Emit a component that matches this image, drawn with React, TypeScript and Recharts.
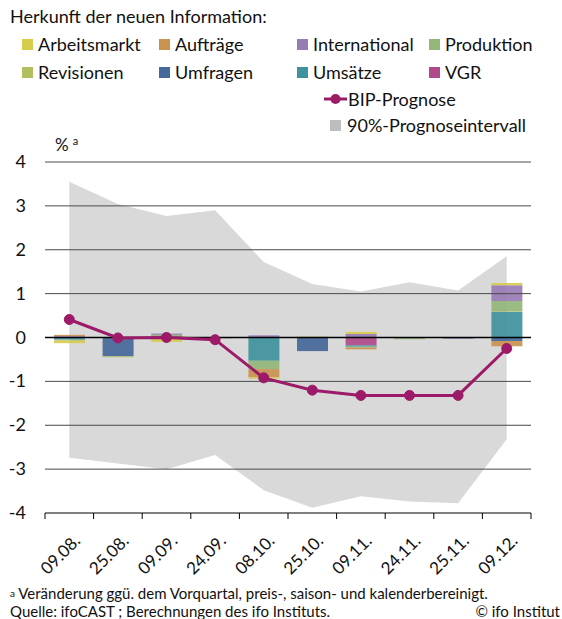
import {
  ComposedChart,
  Bar,
  Line,
  Area,
  XAxis,
  YAxis,
  ReferenceLine,
} from "recharts";

const dates = ["09.08.", "25.08.", "09.09.", "24.09.", "08.10.", "25.10.", "09.11.", "24.11.", "25.11.", "09.12."];

const arbeitsmarkt = [-0.06, 0, -0.06, 0, -0.03, 0, 0.05, 0, 0, 0.05];
const auftraege = [0.03, 0, 0, 0, -0.19, 0, -0.04, 0, 0, -0.12];
const international = [0.03, 0, 0.03, 0, 0.05, 0, 0.08, 0, -0.03, 0.36];
const produktion = [-0.02, 0.01, 0.06, -0.02, -0.19, 0, -0.02, -0.04, 0, 0.24];
const revisionen = [0, -0.02, -0.04, 0, 0, 0.02, 0, 0, 0, 0.01];
const umfragen = [0, -0.43, 0, 0, 0, -0.31, 0, 0, 0, -0.08];
const umsaetze = [-0.05, 0, 0, 0, -0.53, 0, -0.03, 0, 0, 0.58];
const vgr = [0, 0, 0, 0, 0, 0, -0.18, 0, 0, 0];

const bip = [0.41, -0.01, 0, -0.05, -0.92, -1.2, -1.32, -1.32, -1.32, -0.25];
const upper = [3.55, 3.04, 2.77, 2.9, 1.72, 1.22, 1.05, 1.26, 1.07, 1.85];
const lower = [-2.74, -2.87, -3.0, -2.68, -3.48, -3.88, -3.62, -3.74, -3.78, -2.32];

const yTicks = [-4, -3, -2, -1, 0, 1, 2, 3, 4];
const gridLines = [-3, -2, -1, 1, 2, 3, 4];

// stacking order as in the original (closest to zero first)
const series = [
  { key: "VGR", values: vgr, color: "#b04a8a" },
  { key: "Umsätze", values: umsaetze, color: "#3f939d" },
  { key: "Umfragen", values: umfragen, color: "#46689a" },
  { key: "Revisionen", values: revisionen, color: "#b3bf5e" },
  { key: "Produktion", values: produktion, color: "#93b67b" },
  { key: "International", values: international, color: "#987cb4" },
  { key: "Aufträge", values: auftraege, color: "#c9924f" },
  { key: "Arbeitsmarkt", values: arbeitsmarkt, color: "#d7cc4c" },
];

const legendOrder = [
  "Arbeitsmarkt", "Aufträge", "International", "Produktion",
  "Revisionen", "Umfragen", "Umsätze", "VGR",
];

const data = dates.map((d, i) => {
  const row: Record<string, any> = {
    date: d,
    bip: bip[i],
    band: [lower[i], upper[i]],
  };
  series.forEach((s) => {
    row[s.key] = s.values[i];
  });
  return row;
});

const FONT = "Lato, 'Open Sans', sans-serif";
const LINE_COLOR = "#9c1a68";
const BAND = 48.6;

const XTick = (props: any) => {
  const { x, y, payload, index } = props;
  const lx = x + 12;
  const ly = y + 29;
  return (
    <g>
      <line x1={x - BAND / 2} y1={y} x2={x - BAND / 2} y2={y + 6} stroke="#000" />
      {index === dates.length - 1 && (
        <line x1={x + BAND / 2} y1={y} x2={x + BAND / 2} y2={y + 6} stroke="#000" />
      )}
      <text
        x={lx}
        y={ly}
        textAnchor="end"
        transform={`rotate(-45, ${lx}, ${ly})`}
        fontSize={17}
        fill="#111"
        fontFamily={FONT}
      >
        {payload.value}
      </text>
    </g>
  );
};

const YTick = (props: any) => {
  const { y, payload } = props;
  return (
    <text x={26} y={y} dy={6} textAnchor="end" fontSize={18} fill="#111" fontFamily={FONT}>
      {payload.value}
    </text>
  );
};

export default function App() {
  const colorOf = (k: string) => series.find((s) => s.key === k)!.color;
  const cols = [22, 159, 297, 429];
  return (
    <div
      style={{
        position: "absolute",
        left: 0,
        top: 0,
        width: 562,
        height: 619,
        background: "#fff",
        fontFamily: FONT,
        color: "#111",
      }}
    >
      <ComposedChart
        width={562}
        height={619}
        data={data}
        stackOffset="sign"
        margin={{ top: 162, right: 31, bottom: 76, left: 0 }}
        barSize={31}
      >
        <XAxis
          dataKey="date"
          height={30}
          tick={<XTick />}
          tickLine={false}
          tickSize={0}
          tickMargin={0}
          axisLine={{ stroke: "#000", strokeWidth: 1 }}
          interval={0}
        />
        <YAxis
          domain={[-4, 4]}
          ticks={yTicks}
          width={45}
          tick={<YTick />}
          tickLine={false}
          axisLine={false}
          interval={0}
        />
        <Area
          dataKey="band"
          type="linear"
          stroke="none"
          fill="#d9d9d9"
          fillOpacity={1}
          isAnimationActive={false}
        />
        {gridLines.map((g) => (
          <ReferenceLine key={g} y={g} stroke="#4a4a4a" strokeWidth={1} />
        ))}
        {series.map((s) => (
          <Bar
            key={s.key}
            dataKey={s.key}
            stackId="a"
            fill={s.color}
            fillOpacity={0.92}
            isAnimationActive={false}
          />
        ))}
        <ReferenceLine y={0} stroke="#000" strokeWidth={1.5} />
        <Line
          dataKey="bip"
          type="linear"
          stroke={LINE_COLOR}
          strokeWidth={3}
          dot={{ r: 5, fill: LINE_COLOR, stroke: LINE_COLOR, strokeWidth: 1 }}
          isAnimationActive={false}
        />
      </ComposedChart>

      <div style={{ position: "absolute", left: 10, top: 5, fontSize: 18 }}>
        Herkunft der neuen Information:
      </div>
      {legendOrder.map((k, i) => {
        const row = Math.floor(i / 4);
        const col = i % 4;
        return (
          <div
            key={k}
            style={{
              position: "absolute",
              left: cols[col],
              top: row === 0 ? 34 : 62,
              display: "flex",
              alignItems: "center",
              fontSize: 18,
              lineHeight: "20px",
            }}
          >
            <span
              style={{
                display: "inline-block",
                width: 11,
                height: 11,
                background: colorOf(k),
                marginRight: 5,
              }}
            />
            {k}
          </div>
        );
      })}
      <div
        style={{
          position: "absolute",
          left: 324,
          top: 89,
          display: "flex",
          alignItems: "center",
          fontSize: 18,
          lineHeight: "20px",
        }}
      >
        <svg width={23} height={12} style={{ marginRight: 1 }}>
          <line x1={0} y1={6} x2={23} y2={6} stroke={LINE_COLOR} strokeWidth={3} />
          <circle cx={11.5} cy={6} r={5} fill={LINE_COLOR} />
        </svg>
        BIP-Prognose
      </div>
      <div
        style={{
          position: "absolute",
          left: 330,
          top: 115,
          display: "flex",
          alignItems: "center",
          fontSize: 18,
          lineHeight: "20px",
        }}
      >
        <span
          style={{
            display: "inline-block",
            width: 11,
            height: 11,
            background: "#bdbdbd",
            marginRight: 6,
          }}
        />
        90%-Prognoseintervall
      </div>
      <div style={{ position: "absolute", left: 55, top: 134, fontSize: 17 }}>
        %<span style={{ fontSize: 11, verticalAlign: "top", marginLeft: 4 }}>a</span>
      </div>
      <div
        style={{
          position: "absolute",
          left: 10,
          top: 584,
          fontSize: 15,
          lineHeight: "18px",
          width: 550,
        }}
      >
        <div>
          <span style={{ fontSize: 10, verticalAlign: "top" }}>a</span> Veränderung ggü. dem
          Vorquartal, preis-, saison- und kalenderbereinigt.
        </div>
        <div style={{ display: "flex", justifyContent: "space-between" }}>
          <span>Quelle: ifoCAST ; Berechnungen des ifo Instituts.</span>
          <span>© ifo Institut</span>
        </div>
      </div>
    </div>
  );
}
